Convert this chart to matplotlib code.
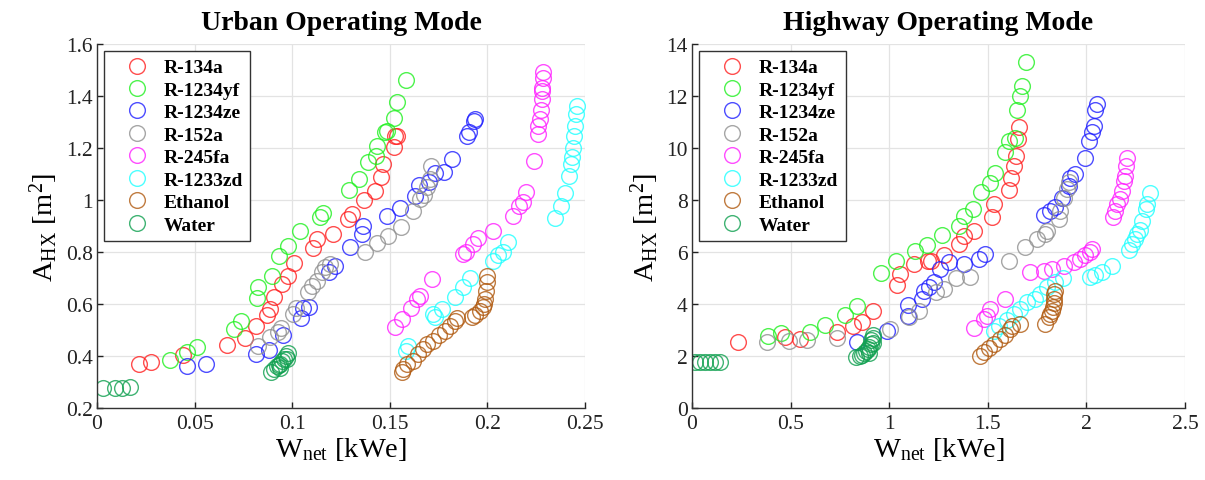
import matplotlib
matplotlib.use("Agg")
import matplotlib.pyplot as plt

fluids = ["R-134a", "R-1234yf", "R-1234ze", "R-152a", "R-245fa", "R-1233zd", "Ethanol", "Water"]
colors = ["#ff2020", "#20f020", "#2020ff", "#909090", "#ff20ff", "#20ffff", "#b05a10", "#10a050"]

# ---------------- Urban operating mode ----------------
u_r134a_x = [0.0217, 0.0275, 0.0439, 0.0668, 0.0758, 0.0813, 0.0869, 0.0886, 0.0907, 0.0946, 0.098, 0.1009,
             0.1105, 0.1125, 0.1207, 0.1287, 0.1304, 0.1368, 0.1424, 0.1453, 0.1467, 0.1523, 0.1527, 0.1535]
u_r134a_y = [0.369, 0.378, 0.404, 0.442, 0.468, 0.517, 0.558, 0.581, 0.626, 0.677, 0.709, 0.757,
             0.815, 0.850, 0.869, 0.927, 0.946, 1.001, 1.033, 1.087, 1.138, 1.203, 1.245, 1.247]
u_r1234yf_x = [0.0374, 0.046, 0.051, 0.0702, 0.0736, 0.0818, 0.0826, 0.0895, 0.0934, 0.098, 0.104, 0.1142,
               0.1159, 0.1293, 0.1344, 0.139, 0.143, 0.1433, 0.1475, 0.1484, 0.1521, 0.1539, 0.1583]
u_r1234yf_y = [0.385, 0.417, 0.433, 0.504, 0.536, 0.622, 0.664, 0.709, 0.786, 0.824, 0.882, 0.935,
               0.950, 1.04, 1.081, 1.147, 1.17, 1.209, 1.26, 1.267, 1.314, 1.378, 1.462]
u_r1234ze_x = [0.0463, 0.0558, 0.0813, 0.0881, 0.0955, 0.1043, 0.1053, 0.1088, 0.119, 0.1219, 0.1296, 0.1356,
               0.1361, 0.1484, 0.1552, 0.1629, 0.1651, 0.1702, 0.1732, 0.1778, 0.182, 0.1897, 0.1907, 0.1931, 0.1936]
u_r1234ze_y = [0.36, 0.369, 0.408, 0.424, 0.481, 0.545, 0.583, 0.587, 0.722, 0.747, 0.818, 0.869,
               0.901, 0.937, 0.969, 1.017, 1.058, 1.068, 1.104, 1.109, 1.158, 1.247, 1.26, 1.305, 1.312]
u_r152a_x = [0.0826, 0.0886, 0.0929, 0.0941, 0.1006, 0.1019, 0.1083, 0.11, 0.1125, 0.1151, 0.1168, 0.1194,
             0.1373, 0.1433, 0.1492, 0.1556, 0.1617, 0.1655, 0.1675, 0.1692, 0.1706, 0.171]
u_r152a_y = [0.44, 0.472, 0.491, 0.507, 0.561, 0.583, 0.645, 0.67, 0.69, 0.722, 0.741, 0.754,
             0.801, 0.835, 0.862, 0.896, 0.959, 1.004, 1.019, 1.049, 1.081, 1.13]
u_r245fa_x = [0.1527, 0.1564, 0.1609, 0.1637, 0.1655, 0.1714, 0.1877, 0.1891, 0.1928, 0.1954, 0.2027, 0.2133,
              0.2164, 0.218, 0.2198, 0.224, 0.2258, 0.2261, 0.227, 0.2275, 0.2278, 0.2278, 0.228, 0.2283, 0.2287]
u_r245fa_y = [0.51, 0.542, 0.585, 0.619, 0.632, 0.696, 0.792, 0.799, 0.831, 0.853, 0.880, 0.94,
              0.978, 0.993, 1.032, 1.151, 1.254, 1.283, 1.312, 1.347, 1.388, 1.42, 1.43, 1.468, 1.491]
u_r1233zd_x = [0.1583, 0.1595, 0.1723, 0.1732, 0.1766, 0.1834, 0.1877, 0.1911, 0.2027, 0.2056, 0.2082, 0.2107,
               0.2346, 0.2375, 0.2398, 0.242, 0.2428, 0.2435, 0.244, 0.2445, 0.2449, 0.2452, 0.2457]
u_r1233zd_y = [0.42, 0.44, 0.562, 0.549, 0.581, 0.626, 0.664, 0.699, 0.767, 0.789, 0.799, 0.837,
               0.93, 0.976, 1.027, 1.093, 1.138, 1.164, 1.199, 1.247, 1.286, 1.331, 1.363]
u_ethanol_x = [0.1561, 0.157, 0.1587, 0.162, 0.1646, 0.1672, 0.1692, 0.1723, 0.1754, 0.1783, 0.1808, 0.1834,
               0.1843, 0.1919, 0.1936, 0.1962, 0.1976, 0.1984, 0.1988, 0.1993, 0.1996, 0.1996]
u_ethanol_y = [0.337, 0.35, 0.369, 0.382, 0.408, 0.427, 0.446, 0.459, 0.481, 0.497, 0.517, 0.536,
               0.545, 0.549, 0.558, 0.574, 0.587, 0.6, 0.619, 0.651, 0.683, 0.709]
u_water_x = [0.0032, 0.0092, 0.0126, 0.0169, 0.089, 0.0905, 0.092, 0.093, 0.094, 0.095, 0.096, 0.097,
             0.098, 0.0975, 0.094]
u_water_y = [0.276, 0.276, 0.276, 0.28, 0.34, 0.35, 0.36, 0.365, 0.37, 0.38, 0.39, 0.40,
             0.41, 0.39, 0.355]

# ---------------- Highway operating mode ----------------
h_r134a_x = [0.235, 0.472, 0.548, 0.734, 0.816, 0.861, 0.917, 1.039, 1.053, 1.124, 1.195, 1.21,
             1.276, 1.352, 1.381, 1.428, 1.521, 1.533, 1.606, 1.619, 1.635, 1.645, 1.651, 1.657]
h_r134a_y = [2.55, 2.72, 2.65, 2.91, 3.17, 3.32, 3.74, 4.73, 5.15, 5.54, 5.67, 5.65,
             5.88, 6.31, 6.63, 6.82, 7.33, 7.85, 8.38, 8.83, 9.3, 9.7, 10.35, 10.8]
h_r1234yf_x = [0.387, 0.45, 0.596, 0.675, 0.777, 0.836, 0.959, 1.036, 1.132, 1.191, 1.267, 1.352,
               1.381, 1.425, 1.465, 1.509, 1.538, 1.589, 1.606, 1.64, 1.648, 1.665, 1.674, 1.694]
h_r1234yf_y = [2.78, 2.88, 2.94, 3.19, 3.58, 3.94, 5.19, 5.67, 6.05, 6.27, 6.66, 7.01,
               7.37, 7.65, 8.3, 8.65, 9.03, 9.83, 10.28, 10.37, 11.46, 11.99, 12.37, 13.32]
h_r1234ze_x = [0.836, 0.988, 1.093, 1.093, 1.166, 1.174, 1.2, 1.225, 1.259, 1.301, 1.377, 1.453, 1.487,
               1.787, 1.817, 1.843, 1.877, 1.911, 1.919, 1.944, 1.995, 2.012, 2.029, 2.037, 2.046, 2.054]
h_r1234ze_y = [2.53, 2.97, 3.53, 3.96, 4.19, 4.51, 4.65, 4.83, 5.35, 5.6, 5.54, 5.73, 5.92,
               7.42, 7.59, 7.72, 8.07, 8.55, 8.83, 9.0, 9.6, 10.28, 10.63, 10.86, 11.47, 11.69]
h_r152a_x = [0.382, 0.494, 0.582, 0.734, 1.005, 1.098, 1.149, 1.239, 1.276, 1.34, 1.411, 1.606, 1.69,
             1.75, 1.792, 1.8, 1.859, 1.868, 1.888, 1.902, 1.911]
h_r152a_y = [2.53, 2.59, 2.62, 2.68, 3.04, 3.49, 3.74, 4.45, 4.58, 4.99, 5.03, 5.67, 6.18,
             6.5, 6.69, 6.82, 7.27, 7.59, 8.07, 8.42, 8.68]
h_r245fa_x = [1.428, 1.479, 1.496, 1.509, 1.589, 1.716, 1.783, 1.826, 1.885, 1.936, 1.97, 1.995,
              2.02, 2.029, 2.136, 2.147, 2.156, 2.17, 2.181, 2.19, 2.198, 2.202, 2.207]
h_r245fa_y = [3.07, 3.42, 3.55, 3.81, 4.19, 5.24, 5.28, 5.35, 5.47, 5.6, 5.73, 5.88,
              5.99, 6.12, 7.33, 7.59, 7.85, 8.04, 8.36, 8.74, 8.93, 9.32, 9.6]
h_r1233zd_x = [1.53, 1.555, 1.597, 1.631, 1.665, 1.699, 1.741, 1.766, 1.8, 1.843, 1.882, 2.017,
               2.046, 2.08, 2.13, 2.215, 2.232, 2.244, 2.257, 2.271, 2.283, 2.3, 2.308, 2.321]
h_r1233zd_y = [2.97, 3.17, 3.4, 3.62, 3.81, 4.06, 4.19, 4.38, 4.64, 4.83, 4.99, 5.03,
               5.12, 5.24, 5.45, 6.09, 6.31, 6.5, 6.69, 6.85, 7.2, 7.65, 7.85, 8.27]
h_ethanol_x = [1.458, 1.479, 1.504, 1.53, 1.56, 1.589, 1.614, 1.623, 1.665, 1.792, 1.809, 1.817,
               1.826, 1.829, 1.834, 1.834, 1.838, 1.839]
h_ethanol_y = [2.01, 2.14, 2.3, 2.46, 2.65, 2.81, 3.04, 3.17, 3.23, 3.23, 3.49, 3.62,
               3.74, 3.87, 4.04, 4.19, 4.38, 4.51]
h_water_x = [0.015, 0.041, 0.066, 0.091, 0.117, 0.142, 0.83, 0.85, 0.86, 0.87, 0.88, 0.89, 0.90,
             0.91, 0.91, 0.92, 0.92, 0.92, 0.90]
h_water_y = [1.76, 1.76, 1.76, 1.76, 1.77, 1.77, 1.95, 2.0, 2.05, 2.1, 2.2, 2.25, 2.35,
             2.45, 2.6, 2.7, 2.8, 2.5, 2.1]

urban = [(u_r134a_x, u_r134a_y), (u_r1234yf_x, u_r1234yf_y), (u_r1234ze_x, u_r1234ze_y),
         (u_r152a_x, u_r152a_y), (u_r245fa_x, u_r245fa_y), (u_r1233zd_x, u_r1233zd_y),
         (u_ethanol_x, u_ethanol_y), (u_water_x, u_water_y)]
highway = [(h_r134a_x, h_r134a_y), (h_r1234yf_x, h_r1234yf_y), (h_r1234ze_x, h_r1234ze_y),
           (h_r152a_x, h_r152a_y), (h_r245fa_x, h_r245fa_y), (h_r1233zd_x, h_r1233zd_y),
           (h_ethanol_x, h_ethanol_y), (h_water_x, h_water_y)]

plt.rcParams['font.family'] = ['Liberation Serif', 'DejaVu Serif']
plt.rcParams['mathtext.fontset'] = 'custom'
plt.rcParams['mathtext.rm'] = 'Liberation Serif'
plt.rcParams['mathtext.it'] = 'Liberation Serif'

fig = plt.figure(figsize=(12.05, 4.81), dpi=100)
ax1 = fig.add_axes([0.0805, 0.1497, 0.405, 0.7567])
ax2 = fig.add_axes([0.5743, 0.1497, 0.4091, 0.7567])

configs = [
    (ax1, urban, "Urban Operating Mode", (0, 0.25), [0, 0.05, 0.1, 0.15, 0.2, 0.25],
     ["0", "0.05", "0.1", "0.15", "0.2", "0.25"], (0.2, 1.6),
     [0.2, 0.4, 0.6, 0.8, 1.0, 1.2, 1.4, 1.6], ["0.2", "0.4", "0.6", "0.8", "1", "1.2", "1.4", "1.6"]),
    (ax2, highway, "Highway Operating Mode", (0, 2.5), [0, 0.5, 1, 1.5, 2, 2.5],
     ["0", "0.5", "1", "1.5", "2", "2.5"], (0, 14),
     [0, 2, 4, 6, 8, 10, 12, 14], ["0", "2", "4", "6", "8", "10", "12", "14"]),
]

for ax, data, title, xlim, xt, xtl, ylim, yt, ytl in configs:
    for (xs, ys), name, c in zip(data, fluids, colors):
        ax.plot(xs, ys, linestyle='none', marker='o', markersize=11.3, markerfacecolor='none',
                markeredgecolor=c, markeredgewidth=1.0, alpha=0.8, label=name)
    ax.set_xlim(*xlim)
    ax.set_ylim(*ylim)
    ax.set_xticks(xt)
    ax.set_xticklabels(xtl)
    ax.set_yticks(yt)
    ax.set_yticklabels(ytl)
    ax.grid(True, color='#e3e3e3', linewidth=0.9)
    ax.set_axisbelow(True)
    for s in ['top', 'right']:
        ax.spines[s].set_visible(False)
    for s in ['left', 'bottom']:
        ax.spines[s].set_linewidth(1.0)
        ax.spines[s].set_color('#333333')
    ax.tick_params(direction='in', length=4, width=1, labelsize=15.5, pad=3, colors='#222222')
    ax.tick_params(axis='x', pad=4.5)
    ax.set_title(title, fontsize=20, fontweight='bold', pad=11)
    ax.set_xlabel(r"W$_{\rm net}$ [kWe]", fontsize=20.5, labelpad=1)
    ax.set_ylabel(r"A$_{\rm HX}$ [m$^2$]", fontsize=20.5, labelpad=4)
    leg = ax.legend(loc='upper left', fancybox=False, framealpha=1, edgecolor='#333333',
                    prop={'weight': 'bold', 'size': 14}, handletextpad=0.05, labelspacing=0.25,
                    borderpad=0.4, handlelength=2.6, borderaxespad=0,
                    bbox_to_anchor=(7.0 / 488, 0.981))
    leg.get_frame().set_linewidth(1.0)

fig.savefig("out.png", dpi=100)
